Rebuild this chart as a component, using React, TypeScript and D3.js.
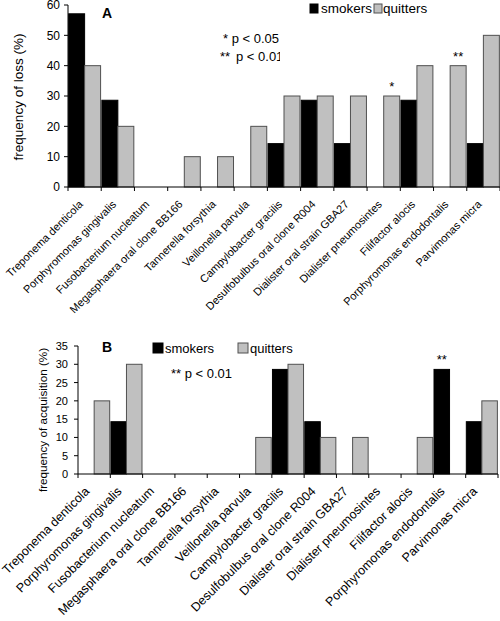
import React from "react";
import * as d3 from "d3";

const categories = [
  "Treponema denticola",
  "Porphyromonas gingivalis",
  "Fusobacterium nucleatum",
  "Megasphaera oral clone BB166",
  "Tannerella forsythia",
  "Veillonella parvula",
  "Campylobacter gracilis",
  "Desulfobulbus oral clone R004",
  "Dialister oral strain GBA27",
  "Dialister pneumosintes",
  "Filifactor alocis",
  "Porphyromonas endodontalis",
  "Parvimonas micra",
];

const lossSmokers = [57.1, 28.6, 0, 0, 0, 0, 14.3, 28.6, 14.3, 0, 28.6, 0, 14.3];
const lossQuitters = [40, 20, 0, 10, 10, 20, 30, 30, 30, 30, 40, 40, 50];
const lossMarks = ["", "", "", "", "", "", "", "", "", "q*", "", "q**", ""];
const lossTicks = [0, 10, 20, 30, 40, 50, 60];

const acqSmokers = [0, 14.3, 0, 0, 0, 0, 28.6, 14.3, 0, 0, 0, 28.6, 14.3];
const acqQuitters = [20, 30, 0, 0, 0, 10, 30, 10, 10, 0, 10, 0, 20];
const acqMarks = ["", "", "", "", "", "", "", "", "", "", "", "s**", ""];
const acqTicks = [0, 5, 10, 15, 20, 25, 30, 35];

const FONT = "Arial, 'Liberation Sans', Helvetica, sans-serif";
const GREY = "#c0c0c0";
const EDGE = "#505050";

type PanelProps = {
  x0: number;
  x1: number;
  yTop: number;
  yBottom: number;
  yMax: number;
  ticks: number[];
  smokers: number[];
  quitters: number[];
  marks: string[];
  tickFont: number;
  tickGap: number;
  labelFont: number;
  labelDy: number;
  labelDx: number;
  yTitle: string;
  yTitleX: number;
  yTitleY: number;
  yTitleFont: number;
};

function Panel(p: PanelProps) {
  const x = d3.scaleBand<string>().domain(categories).range([p.x0, p.x1]).paddingInner(0).paddingOuter(0);
  const y = d3.scaleLinear().domain([0, p.yMax]).range([p.yBottom, p.yTop]);
  const inner = d3.scaleBand<string>().domain(["s", "q"]).range([0, x.bandwidth()]).paddingOuter(0.04).paddingInner(0);
  const bw = inner.bandwidth();
  const edges = categories.map((c) => x(c) as number).concat([p.x1]);
  return (
    <g>
      {categories.map((c, i) => (
        <g key={c}>
          {p.smokers[i] > 0 && (
            <rect
              x={(x(c) as number) + (inner("s") as number)}
              y={y(p.smokers[i])}
              width={bw}
              height={p.yBottom - y(p.smokers[i])}
              fill="#000"
              stroke="#000"
              strokeWidth={1}
            />
          )}
          {p.quitters[i] > 0 && (
            <rect
              x={(x(c) as number) + (inner("q") as number)}
              y={y(p.quitters[i])}
              width={bw}
              height={p.yBottom - y(p.quitters[i])}
              fill={GREY}
              stroke={EDGE}
              strokeWidth={1}
            />
          )}
          {p.marks[i] && (
            <text
              x={(x(c) as number) + (inner(p.marks[i][0]) as number) + bw / 2}
              y={y(p.marks[i][0] === "s" ? p.smokers[i] : p.quitters[i]) - 5}
              textAnchor="middle"
              fontSize={13}
              fontFamily={FONT}
            >
              {p.marks[i].slice(1)}
            </text>
          )}
          <text
            transform={`translate(${(x(c) as number) + x.bandwidth() / 2 + p.labelDx},${p.yBottom + p.labelDy}) rotate(-45)`}
            textAnchor="end"
            fontSize={p.labelFont}
            fontFamily={FONT}
            fill="#000"
          >
            {c}
          </text>
        </g>
      ))}
      <line x1={p.x0} x2={p.x0} y1={p.yTop} y2={p.yBottom} stroke="#000" strokeWidth={1} />
      <line x1={p.x0} x2={p.x1} y1={p.yBottom} y2={p.yBottom} stroke="#000" strokeWidth={1} />
      {edges.map((e, i) => (
        <line key={i} x1={e} x2={e} y1={p.yBottom} y2={p.yBottom + 4} stroke="#000" strokeWidth={1} />
      ))}
      {p.ticks.map((t) => (
        <g key={t}>
          <line x1={p.x0 - 4} x2={p.x0} y1={y(t)} y2={y(t)} stroke="#000" strokeWidth={1} />
          <text x={p.x0 - p.tickGap} y={y(t)} dy="0.36em" textAnchor="end" fontSize={p.tickFont} fontFamily={FONT}>
            {t}
          </text>
        </g>
      ))}
      <text
        transform={`translate(${p.yTitleX},${p.yTitleY}) rotate(-90)`}
        textAnchor="middle"
        fontSize={p.yTitleFont}
        fontFamily={FONT}
      >
        {p.yTitle}
      </text>
    </g>
  );
}

export default function App() {
  return (
    <svg
      width={500}
      height={621}
      style={{ position: "absolute", left: 0, top: 0, background: "#fff" }}
    >
      <defs>
        <clipPath id="pclip">
          <rect x={200} y={20} width={80} height={50} />
        </clipPath>
      </defs>
      <Panel
        x0={68}
        x1={500}
        yTop={5}
        yBottom={187}
        yMax={60}
        ticks={lossTicks}
        smokers={lossSmokers}
        quitters={lossQuitters}
        marks={lossMarks}
        tickFont={12}
        tickGap={8}
        labelFont={11}
        labelDy={18}
        labelDx={-1}
        yTitle="frequency of loss (%)"
        yTitleX={23}
        yTitleY={97}
        yTitleFont={13.5}
      />
      <text x={102} y={18} fontSize={14} fontWeight="bold" fontFamily={FONT}>A</text>
      <rect x={310} y={4} width={8} height={9} fill="#000" stroke="#000" />
      <text x={321} y={13} fontSize={13.5} fontFamily={FONT}>smokers</text>
      <rect x={374} y={4} width={8} height={9} fill={GREY} stroke={EDGE} />
      <text x={383} y={13} fontSize={13.5} fontFamily={FONT}>quitters</text>
      <text x={223} y={43} fontSize={13} fontFamily={FONT}>* p &lt; 0.05</text>
      <g clipPath="url(#pclip)" fontSize={13} fontFamily={FONT}>
        <text x={220} y={61}>**</text>
        <text x={236} y={61}>p &lt; 0.01</text>
      </g>

      <Panel
        x0={78}
        x1={498}
        yTop={346}
        yBottom={474}
        yMax={35}
        ticks={acqTicks}
        smokers={acqSmokers}
        quitters={acqQuitters}
        marks={acqMarks}
        tickFont={11}
        tickGap={10}
        labelFont={12.5}
        labelDy={18}
        labelDx={-4}
        yTitle="frequency of acquisition (%)"
        yTitleX={47}
        yTitleY={420}
        yTitleFont={11.7}
      />
      <text x={102} y={352} fontSize={14} fontWeight="bold" fontFamily={FONT}>B</text>
      <rect x={153} y={343} width={10} height={10} fill="#000" stroke="#000" />
      <text x={165} y={353} fontSize={13} fontFamily={FONT}>smokers</text>
      <rect x={238} y={343} width={10} height={10} fill={GREY} stroke={EDGE} />
      <text x={250} y={353} fontSize={13} fontFamily={FONT}>quitters</text>
      <text x={171} y={378} fontSize={13} fontFamily={FONT}>** p &lt; 0.01</text>
    </svg>
  );
}
